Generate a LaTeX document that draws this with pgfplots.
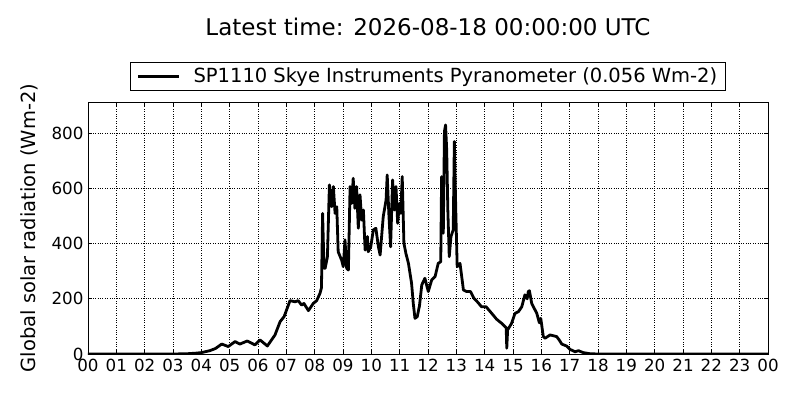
\documentclass[border=0pt]{standalone}
\usepackage{pgfplots}
\pgfplotsset{compat=1.18}
\usepackage{fontspec}
\setmainfont{DejaVu Sans}
\begin{document}
\begin{tikzpicture}
\useasboundingbox (0,0) rectangle (800pt,400pt);
\begin{axis}[
  at={(88pt,46pt)}, anchor=south west,
  scale only axis, width=680pt, height=252pt,
  xmin=0, xmax=24, ymin=0, ymax=912,
  xtick={0,1,...,24},
  xticklabels={00,01,02,03,04,05,06,07,08,09,10,11,12,13,14,15,16,17,18,19,20,21,22,23,00},
  ytick={0,200,400,600,800},
  /pgf/number format/assume math mode=true,
  tick label style={font=\fontsize{16.7}{20}\selectfont},
  xticklabel style={yshift=-2pt},
  yticklabel style={xshift=-1pt},
  tick align=inside, tick pos=both,
  major tick length=4pt,
  tick style={black, line width=0.8pt},
  axis line style={line width=0.9pt},
  grid=major,
  major grid style={black, dotted, line width=0.7pt},
  title={Latest time: 2026-08-18 00:00:00 UTC},
  title style={at={(0.5,1)}, anchor=base, yshift=60pt, font=\fontsize{23}{27}\selectfont},
  ylabel={Global solar radiation (Wm-2)},
  ylabel style={at={(axis description cs:-0.0868,0.5)}, anchor=center, font=\fontsize{19.5}{23}\selectfont},
  legend style={at={(0.5,1.0448)}, anchor=south, draw=black, line width=0.8pt,
    font=\fontsize{19.5}{23}\selectfont, inner xsep=6pt, inner ysep=4pt,
    nodes={inner sep=2pt},
    legend cell align=left},
  legend image code/.code={\draw[#1, line width=2.8pt] (0pt,0pt) -- (41pt,0pt); \path (52pt,0pt);},
]
\addplot[black, line width=2.8pt, line join=round] coordinates {
(0,0) (3.0,0) (3.5,1) (3.8,3) (4.0,5) (4.3,12) (4.5,20) (4.72,36) (4.95,27) (5.19,45) (5.36,36)
(5.62,47) (5.89,33) (6.07,51) (6.33,29) (6.6,69) (6.78,117) (6.92,135) (7.13,193) (7.31,189)
(7.42,193) (7.54,177) (7.62,183) (7.78,157) (7.95,183) (8.07,193) (8.19,220) (8.24,240)
(8.28,509) (8.33,310) (8.37,310) (8.45,352) (8.52,612) (8.6,533) (8.66,606) (8.72,509) (8.78,533)
(8.83,370) (8.95,340) (9.01,316) (9.07,413) (9.13,310) (9.19,304) (9.25,606) (9.31,545) (9.36,636)
(9.42,527) (9.48,606) (9.54,455) (9.6,576) (9.66,485) (9.72,521) (9.78,376) (9.86,425) (9.89,370)
(9.98,388) (10.07,449) (10.16,455) (10.25,388) (10.31,358) (10.42,497) (10.52,557) (10.56,648)
(10.62,503) (10.68,388) (10.75,630) (10.81,521) (10.87,606) (10.93,473) (10.99,545) (11.04,509)
(11.09,642) (11.15,401) (11.22,364) (11.31,328) (11.42,256) (11.48,183) (11.54,129) (11.62,135)
(11.7,175) (11.78,250) (11.89,274) (12.01,226) (12.13,268) (12.25,280) (12.36,328) (12.45,334)
(12.48,642) (12.54,437) (12.58,805) (12.62,829) (12.66,738) (12.7,521) (12.75,352) (12.81,425)
(12.89,449) (12.93,769) (12.98,521) (13.03,316) (13.13,328) (13.25,232) (13.36,226) (13.5,226)
(13.62,202) (13.74,189) (13.89,171) (14.05,171) (14.25,147) (14.42,126) (14.6,111) (14.72,99)
(14.76,95) (14.78,21) (14.81,87) (14.95,111) (15.07,147) (15.19,153) (15.31,171) (15.42,214)
(15.5,200) (15.54,226) (15.58,229) (15.66,183) (15.84,147) (15.93,113) (15.98,129) (16.07,63)
(16.13,57) (16.31,69) (16.54,63) (16.63,51) (16.72,36) (16.89,29) (17.01,17) (17.19,8) (17.31,12)
(17.48,5) (17.72,1) (18.0,0) (24,0)
};
\addlegendentry{SP1110 Skye Instruments Pyranometer (0.056 Wm-2)}
\end{axis}
\end{tikzpicture}
\end{document}
